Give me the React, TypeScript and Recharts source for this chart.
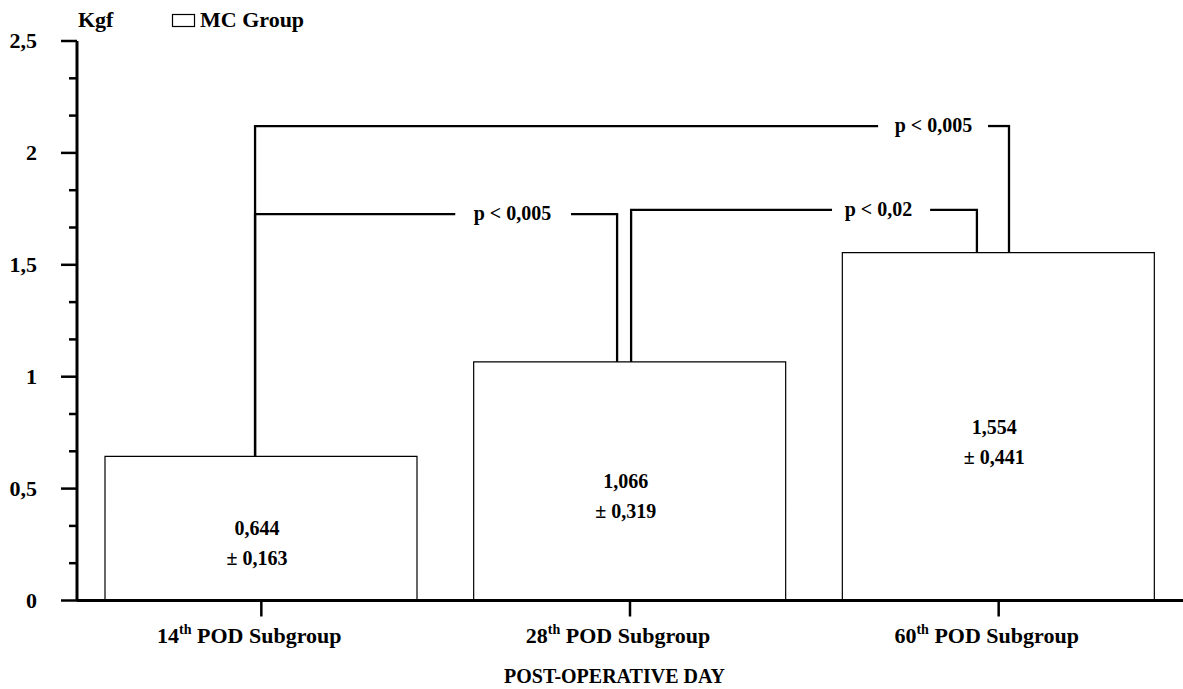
import React from 'react';
import { Bar, BarChart, LabelList, ReferenceDot, ReferenceLine, XAxis, YAxis } from 'recharts';

const ordinals = ['14', '28', '60'];
const means = [0.644, 1.066, 1.554];
const sds = [0.163, 0.319, 0.441];

const majorTicks = [0, 0.5, 1, 1.5, 2, 2.5];
const minorTicks = [0.1667, 0.3333, 0.6667, 0.8333, 1.1667, 1.3333, 1.6667, 1.8333, 2.1667, 2.3333];

// significance brackets, x in "band units" (0..3) on a hidden numeric axis
const bracketLabels = ['p < 0,005', 'p < 0,02', 'p < 0,005'];
const bracketFrom = [0, 1, 0];
const bracketTo = [1, 2, 2];
const bracketX1 = [0.483, 1.503, 0.483];
const bracketX2 = [1.465, 2.441, 2.528];
const bracketY = [1.726, 1.745, 2.12];
const gapStart = [1.026, 2.048, 2.173];
const gapEnd = [1.34, 2.314, 2.471];
const labelX = [1.181, 2.174, 2.323];

const fmt = (v: number, d: number) => v.toFixed(d).replace('.', ',');

const data = ordinals.map((o, i) => ({
  name: o,
  mean: means[i],
  meanText: fmt(means[i], 3),
  sdText: `± ${fmt(sds[i], 3)}`,
}));

const FONT = '"Liberation Serif", "Times New Roman", serif';
const INK = '#000';
const LINE_W = 2.3;

const YTick = (props: any) => {
  const { x, y, payload } = props;
  const major = majorTicks.includes(payload.value);
  return (
    <g>
      <line x1={major ? x + 4 : x + 12} x2={x + 20} y1={y} y2={y} stroke={INK} strokeWidth={2.5} />
      {major && (
        <text x={x - 20} y={y + 7} textAnchor="end" fontFamily={FONT} fontWeight="bold" fontSize={22} fill={INK}>
          {fmt(payload.value, payload.value % 1 === 0 ? 0 : 1)}
        </text>
      )}
    </g>
  );
};

const XTick = (props: any) => {
  const { x, y, payload } = props;
  return (
    <text x={x - 12} y={y + 24.5} textAnchor="middle" fontFamily={FONT} fontWeight="bold" fontSize={22} fill={INK}>
      <tspan>{payload.value}</tspan>
      <tspan fontSize={14} dy={-9}>th</tspan>
      <tspan dy={9}> POD Subgroup</tspan>
    </text>
  );
};

const valueLabel = (offset: number) => (props: any) => {
  const { x, y, width, height, value } = props;
  return (
    <text
      x={x + width / 2 - 4}
      y={y + height / 2 + offset}
      textAnchor="middle"
      fontFamily={FONT}
      fontWeight="bold"
      fontSize={20}
      fill={INK}
    >
      {value}
    </text>
  );
};

const seg = (i: number, key: string, a: [number, number], b: [number, number]) => (
  <ReferenceLine
    key={`${key}${i}`}
    xAxisId="num"
    segment={[
      { x: a[0], y: a[1] },
      { x: b[0], y: b[1] },
    ]}
    stroke={INK}
    strokeWidth={LINE_W}
    ifOverflow="visible"
  />
);

export default function App() {
  return (
    <div style={{ position: 'absolute', left: 0, top: 0, width: 1183, height: 689, background: '#fff' }}>
      <BarChart
        width={1183}
        height={689}
        data={data}
        margin={{ top: 41, right: 0, bottom: 28.5, left: 0 }}
        barCategoryGap={0}
      >
        <XAxis
          xAxisId="cat"
          dataKey="name"
          interval={0}
          height={60}
          tickSize={16}
          tickMargin={2}
          axisLine={{ stroke: INK, strokeWidth: 3 }}
          tickLine={{ stroke: INK, strokeWidth: 2.5 }}
          tick={<XTick />}
          label={{
            content: (p: any) => (
              <text
                x={p.viewBox.x + p.viewBox.width / 2 - 15.5}
                y={p.viewBox.y + 82.5}
                textAnchor="middle"
                fontFamily={FONT}
                fontWeight="bold"
                fontSize={20}
                fill={INK}
              >
                POST-OPERATIVE DAY
              </text>
            ),
          }}
        />
        <XAxis xAxisId="num" dataKey="mean" type="number" domain={[0, 3]} hide allowDataOverflow />
        <YAxis
          width={77}
          domain={[0, 2.5]}
          ticks={[...majorTicks, ...minorTicks].sort((a, b) => a - b)}
          interval={0}
          tickSize={16}
          tickMargin={4}
          tickLine={false}
          axisLine={{ stroke: INK, strokeWidth: 3 }}
          tick={<YTick />}
          allowDataOverflow
          label={{
            content: (p: any) => (
              <text
                x={p.viewBox.x + p.viewBox.width + 1}
                y={p.viewBox.y - 14}
                fontFamily={FONT}
                fontWeight="bold"
                fontSize={22}
                fill={INK}
              >
                Kgf
              </text>
            ),
          }}
        />
        <Bar
          xAxisId="cat"
          dataKey="mean"
          barSize={312}
          fill="#fff"
          stroke={INK}
          strokeWidth={1.2}
          isAnimationActive={false}
        >
          <LabelList dataKey="meanText" content={valueLabel(7)} />
          <LabelList dataKey="sdText" content={valueLabel(37)} />
        </Bar>
        {bracketLabels.map((lab, i) => [
          seg(i, 'l', [bracketX1[i], means[bracketFrom[i]]], [bracketX1[i], bracketY[i]]),
          seg(i, 'h1', [bracketX1[i] - 0.003, bracketY[i]], [gapStart[i], bracketY[i]]),
          seg(i, 'h2', [gapEnd[i], bracketY[i]], [bracketX2[i] + 0.003, bracketY[i]]),
          seg(i, 'r', [bracketX2[i], bracketY[i]], [bracketX2[i], means[bracketTo[i]]]),
          <ReferenceDot
            key={`t${i}`}
            xAxisId="num"
            x={labelX[i]}
            y={bracketY[i]}
            r={0}
            fill="none"
            stroke="none"
            ifOverflow="visible"
            label={{
              content: (p: any) => (
                <text
                  x={p.viewBox.x + p.viewBox.width / 2}
                  y={p.viewBox.y + p.viewBox.height / 2 + 6}
                  textAnchor="middle"
                  fontFamily={FONT}
                  fontWeight="bold"
                  fontSize={20}
                  fill={INK}
                >
                  {lab}
                </text>
              ),
            }}
          />,
        ])}
      </BarChart>
      <svg width={400} height={40} style={{ position: 'absolute', left: 0, top: 0 }}>
        <rect x={172.5} y={14.5} width={22} height={12} fill="#fff" stroke={INK} strokeWidth={1.2} />
        <text x={200} y={27} fontFamily={FONT} fontWeight="bold" fontSize={22} fill={INK}>
          MC Group
        </text>
      </svg>
    </div>
  );
}
